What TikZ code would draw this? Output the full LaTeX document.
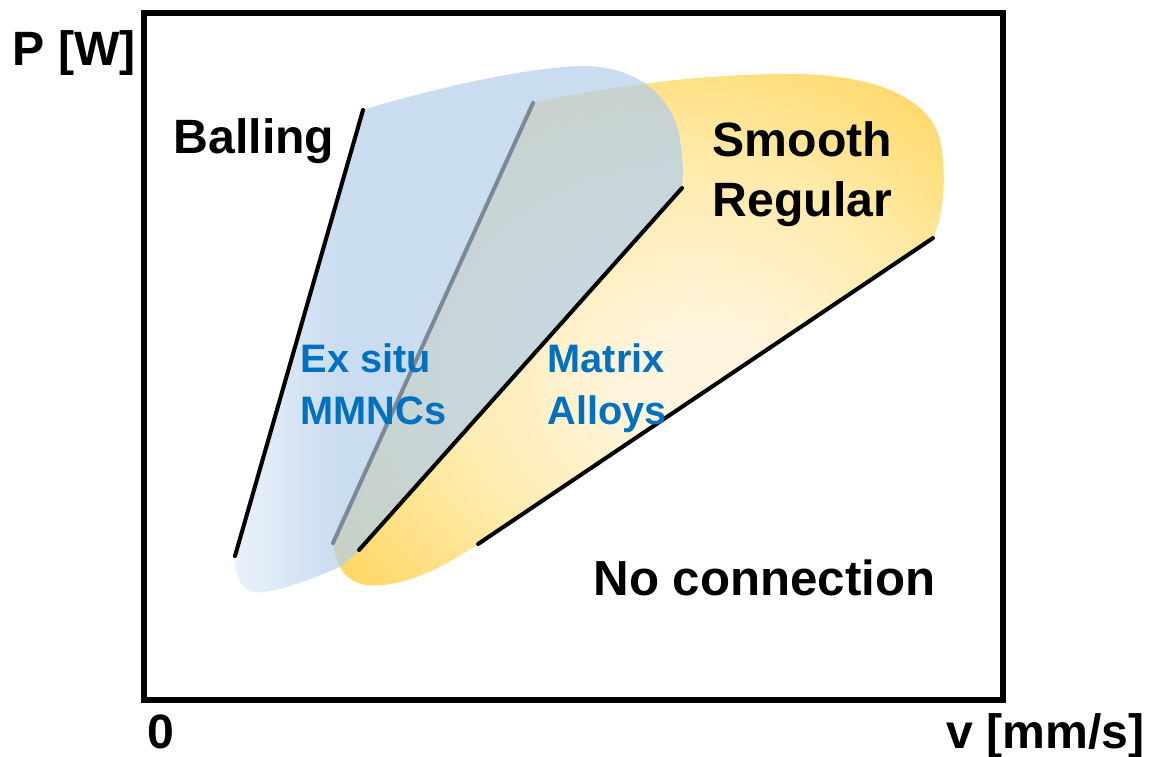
\documentclass[tikz,border=0pt]{standalone}
\usepackage{fontspec}
\setmainfont{Liberation Sans}
\usetikzlibrary{positioning}
\definecolor{bluelite}{RGB}{225,236,248}
\definecolor{bluemid}{RGB}{180,206,234}
\definecolor{creamy}{RGB}{255,245,222}
\definecolor{goldmid}{RGB}{255,234,168}
\definecolor{golddeep}{RGB}{255,216,104}
\definecolor{txtblue}{RGB}{0,112,192}
\definecolor{edgegray}{RGB}{122,137,152}
\pgfdeclarehorizontalshading{exsitufade}{100bp}{color(0bp)=(bluelite); color(25bp)=(bluelite); color(37bp)=(bluemid); color(100bp)=(bluemid)}
\pgfdeclareradialshading{matrixglow}{\pgfpoint{6bp}{-7bp}}{color(0bp)=(creamy); color(6bp)=(creamy); color(21bp)=(goldmid); color(33bp)=(golddeep); color(50bp)=(golddeep)}
\tikzset{bound/.style={line width=1.15pt, line cap=round}}
\tikzset{plotframe/.style={line width=1.6pt}}
\tikzset{lbl/.style={inner sep=0pt, align=left, font=\fontsize{13.7}{17}\selectfont\bfseries}}
\tikzset{regionlbl/.style={lbl, text=txtblue, font=\fontsize{11.3}{14.7}\selectfont\bfseries}}

\begin{document}
\begin{tikzpicture}[x=0.01cm, y=-0.01cm]
   \useasboundingbox (0,0) rectangle (1152,756);
   % ends of the process window boundaries
   \coordinate (ball-lo) at (235,556);
   \coordinate (ball-hi) at (363,110);
   \coordinate (gray-lo) at (333,543);
   \coordinate (gray-hi) at (533,103);
   \coordinate (mid-lo) at (359,550);
   \coordinate (mid-hi) at (682,188);
   \coordinate (conn-lo) at (478,544);
   \coordinate (conn-hi) at (933,238);

   % matrix alloys window
   \shade[shading=matrixglow] (gray-hi)
       .. controls (600,88) and (700,73) .. (800,74)
       .. controls (880,76) and (930,100) .. (940,140)
       .. controls (947,175) and (944,215) .. (conn-hi)
       -- (conn-lo)
       .. controls (440,570) and (400,588) .. (367,585)
       .. controls (345,582) and (335,565) .. (gray-lo) -- cycle;
   % ex situ MMNCs window
   \shade[shading=exsitufade, fill opacity=0.72] (ball-hi)
       .. controls (420,92) and (520,68) .. (580,66)
       .. controls (640,65) and (675,100) .. (680,140)
       .. controls (684,165) and (683,180) .. (mid-hi)
       -- (mid-lo) -- (342,566)
       .. controls (310,580) and (270,595) .. (253,592)
       .. controls (238,588) and (234,570) .. (ball-lo) -- cycle;

   \draw[bound] (ball-lo) -- (ball-hi);
   \draw[bound, edgegray] (gray-lo) -- (gray-hi);
   \draw[bound] (mid-lo) -- (mid-hi);
   \draw[bound] (conn-lo) -- (conn-hi);

   \draw[plotframe] (144,13) rectangle (1003,700);

   \node[lbl, anchor=base west] (pw) at (12,65) {P [W]};
   \node[lbl, anchor=base west] (balling) at (173,153) {Balling};
   \node[lbl, anchor=north west] (smooth) at (712,121) {Smooth\\Regular};
   \node[regionlbl, anchor=north west] (exsitu) at (300,343) {Ex situ\\MMNCs};
   \node[regionlbl, anchor=north west] (matrix) at (547,343) {Matrix\\Alloys};
   \node[lbl, anchor=base west, font=\fontsize{14}{17}\selectfont\bfseries] (noconn) at (593,595) {No connection};
   \node[lbl, anchor=base west] (zero) at (147,748) {0};
   \node[lbl, anchor=base east] (vaxis) at (1145,748) {v [mm/s]};
\end{tikzpicture}
\end{document}
